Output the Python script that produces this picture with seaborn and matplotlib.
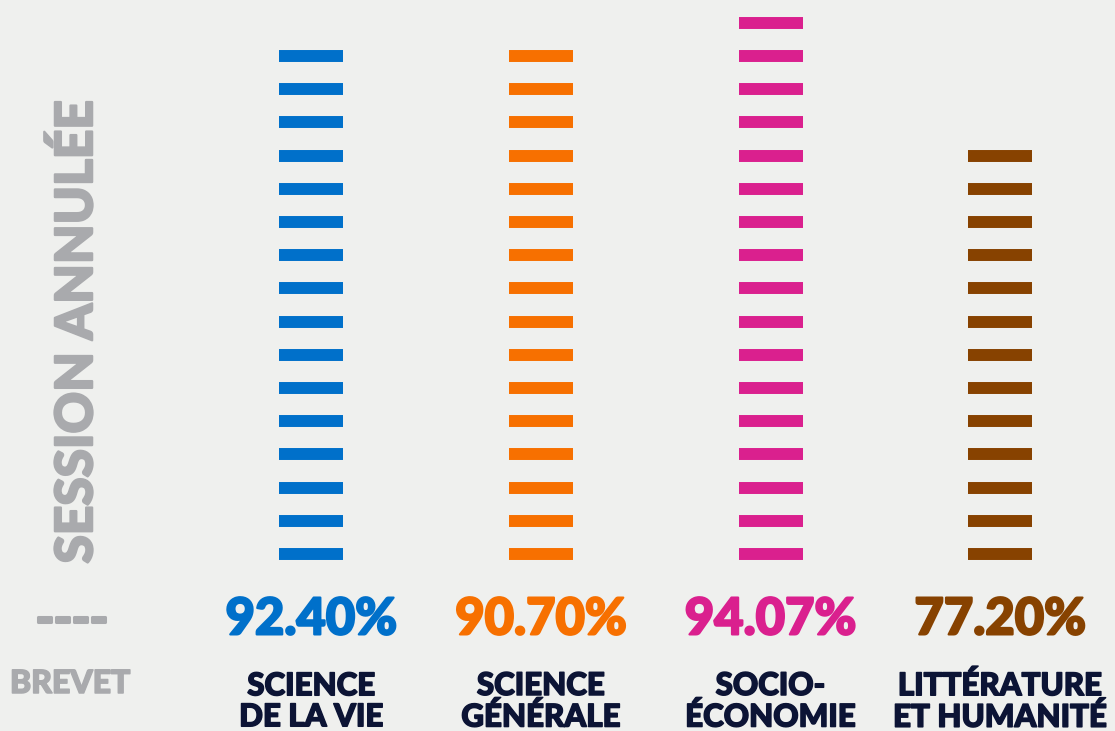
import numpy as np
import pandas as pd
import matplotlib
matplotlib.use("Agg")
import matplotlib.pyplot as plt
import matplotlib.patheffects as pe
import seaborn as sns

# data
filieres = ["BREVET", "SCIENCE\nDE LA VIE", "SCIENCE\nGÉNÉRALE", "SOCIO-\nÉCONOMIE", "LITTÉRATURE\nET HUMANITÉ"]
taux = [None, 92.40, 90.70, 94.07, 77.20]
nb_tirets = [0, 16, 16, 17, 13]
couleurs = ["#a9aaad", "#0070ca", "#f77000", "#da208e", "#874200"]

bg = "#eff0ee"
navy = "#0c1435"
grey = "#a9aaad"

rows = []
for i, (f, n) in enumerate(zip(filieres, nb_tirets)):
    for k in range(n):
        rows.append({"x": i, "niveau": k, "filiere": f})
df = pd.DataFrame(rows)

sns.set_theme(style="white")
plt.rcParams["font.family"] = ["Lato", "DejaVu Sans"]


def gras(c, w=1.1):
    return [pe.withStroke(linewidth=w, foreground=c)]


fig = plt.figure(figsize=(11.15, 7.31), dpi=100, facecolor=bg)
ax = fig.add_axes([0, 0, 1, 1])
ax.set_facecolor(bg)

pal = dict(zip(filieres, couleurs))
sns.scatterplot(data=df, x="x", y="niveau", hue="filiere", palette=pal,
                marker="_", s=46 ** 2, linewidth=8.6, legend=False, ax=ax)

ax.set_xlim(-0.356, 4.5)
ax.set_ylim(-5.33, 16.69)
ax.axis("off")

trans = ax.get_xaxis_transform()
for i, (f, t, c) in enumerate(zip(filieres, taux, couleurs)):
    if t is None:
        ax.text(i - 0.045, 0.152, "----", transform=trans, ha="center", va="center",
                fontsize=35, fontweight="black", color=grey, path_effects=gras(grey, 2.2))
        ax.text(i - 0.05, 0.065, f, transform=trans, ha="center", va="center",
                fontsize=23, fontweight="black", color=grey, path_effects=gras(grey))
    else:
        ax.text(i, 0.152, f"{t:.2f}%", transform=trans, ha="center", va="center",
                fontsize=36.5, fontweight="black", color=c, path_effects=gras(c, 1.6))
        ax.text(i, 0.040, f, transform=trans, ha="center", va="center",
                fontsize=22.5, fontweight="black", color=navy, linespacing=1.13,
                path_effects=gras(navy))

ax.text(-0.02, 0.546, "SESSION ANNULÉE", transform=trans, rotation=90,
        ha="center", va="center", fontsize=37, fontweight="black", color=grey,
        path_effects=gras(grey, 1.6))

fig.savefig("out.png", dpi=100, facecolor=bg)
